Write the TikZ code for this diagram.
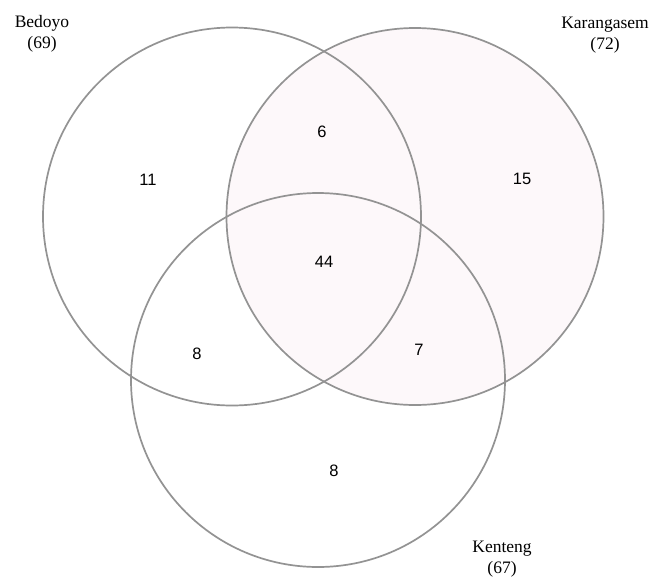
\documentclass[tikz,border=0pt]{standalone}
\usepackage{fontspec}
\setmainfont{Liberation Serif}
\newfontfamily\numfont{Liberation Sans}
\definecolor{ringgray}{HTML}{939393}
\definecolor{pinkfill}{HTML}{FDF8FA}
\begin{document}
\begin{tikzpicture}[x=1pt,y=-1pt,
  ring/.style={draw=ringgray,line width=1.7pt},
  setlabel/.style={align=center,font=\fontsize{17.5}{20.5}\selectfont,inner sep=0pt},
  count/.style={font=\numfont\fontsize{16.5}{18}\selectfont,inner sep=0pt}]
\useasboundingbox (0,0) rectangle (658,576);
\fill[white] (0,0) rectangle (658,576);
% circles
\coordinate (cA) at (232,216.5);
\coordinate (cB) at (415,216.5);
\coordinate (cC) at (318,380);
\fill[pinkfill] (cB) circle[radius=188.5];
\draw[ring] (cA) circle[radius=189];
\draw[ring] (cB) circle[radius=188.5];
\draw[ring] (cC) circle[radius=187];
% set labels
\node[setlabel] (lA) at (42,34) {Bedoyo\\(69)};
\node[setlabel] (lB) at (605,35) {Karangasem\\(72)};
\node[setlabel] (lC) at (502,559) {Kenteng\\(67)};
% counts
\node[count] (nA) at (148,180) {11};
\node[count] (nAB) at (322,132) {6};
\node[count] (nB) at (522,179) {15};
\node[count] (nABC) at (324,262) {44};
\node[count] (nAC) at (197,354) {8};
\node[count] (nBC) at (419,350) {7};
\node[count] (nC) at (334,471) {8};
\end{tikzpicture}
\end{document}
